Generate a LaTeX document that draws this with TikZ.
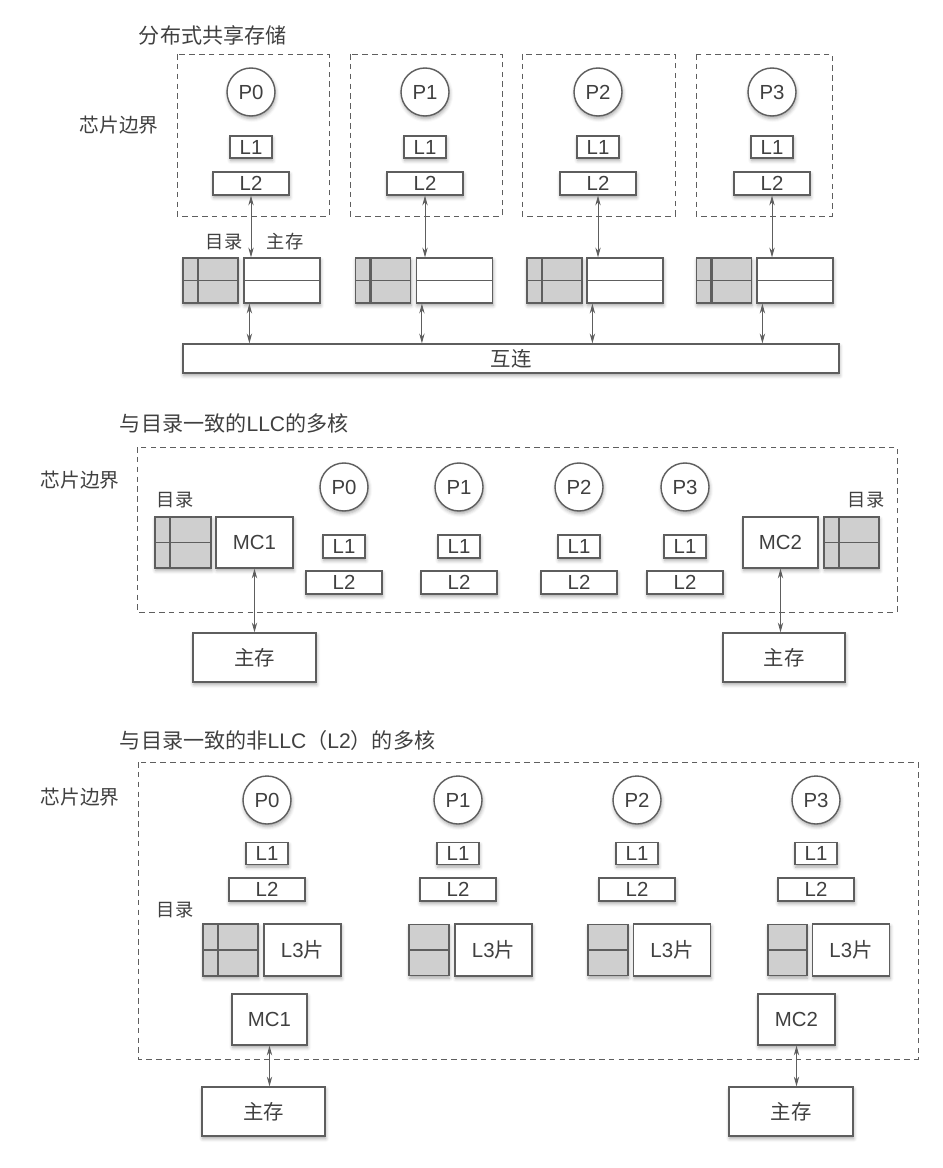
\documentclass[tikz,border=0pt]{standalone}
\usepackage{fontspec}
\setmainfont{Liberation Sans}
\newfontfamily\cjk{Noto Sans CJK SC}
\usetikzlibrary{arrows.meta,shadows.blur}

\newcommand{\pxl}{0.025cm}
\definecolor{edge}{HTML}{5E5E5E}
\definecolor{txt}{HTML}{404040}
\definecolor{dirgray}{HTML}{CFCFCF}

\tikzset{
  every node/.style={text=txt, font=\fontsize{14.5}{17}\selectfont},
  soft/.style={blur shadow={shadow xshift=0.5pt, shadow yshift=-1.8pt, shadow blur radius=2.5pt, shadow opacity=35}},
  proc/.style={circle, draw=edge, line width=1pt, fill=white, minimum size=48*\pxl, inner sep=0pt, soft},
  cbox/.style args={#1/#2}{draw=edge, line width=0.85pt, fill=white, minimum width=#1*\pxl, minimum height=#2*\pxl, inner sep=0pt, soft},
  memrows/.style={path picture={\draw[edge, line width=0.85pt] (path picture bounding box.west) -- (path picture bounding box.east);}},
  dirfull/.style args={#1/#2}{cbox=#1/#2, fill=dirgray, path picture={
      \draw[edge, line width=0.85pt] (path picture bounding box.west) -- (path picture bounding box.east);
      \draw[edge, line width=1.9pt] ([xshift=15*\pxl]path picture bounding box.north west) -- ([xshift=15*\pxl]path picture bounding box.south west);}},
  dirhalf/.style args={#1/#2}{cbox=#1/#2, fill=dirgray, memrows},
  chip/.style={draw=edge, dash pattern=on 4pt off 3pt, line width=0.7pt},
  link/.style={draw=edge, line width=0.65pt, {Stealth[length=7pt,width=3.8pt]}-{Stealth[length=7pt,width=3.8pt]}},
  title/.style={anchor=west, font=\fontsize{15}{18}\selectfont},
  lbl/.style={font=\cjk\fontsize{14}{17}\selectfont},
}

\begin{document}
\begin{tikzpicture}[x=0.025cm, y=-0.025cm]
  \useasboundingbox (0,0) rectangle (942,1168);

  \node[title] (t1) at (134,35) {\cjk 分布式共享存储};
  \node[lbl] (b1) at (119,125) {芯片边界};
  \draw[chip] (177,54) rectangle (329,216);
  \draw[chip] (350,54) rectangle (502,216);
  \draw[chip] (522,54) rectangle (675,216);
  \draw[chip] (696,54) rectangle (832,216);
  \node[lbl, font=\cjk\fontsize{13}{16}\selectfont] (d1) at (224,242) {目录};
  \node[lbl, font=\cjk\fontsize{13}{16}\selectfont] (s1) at (285,242) {主存};
  \node[cbox=656/29] (net) at (511,358.5) {\cjk 互连};
  \foreach \i/\x/\d/\m in {0/251/210.5/282,1/425/383/454.5,2/598/554.5/625,3/772/724/795}{
    \node[proc] (a-p\i) at (\x,92) {P\i};
    \node[cbox=42/22] (a-l1\i) at (\x,147) {L1};
    \node[cbox=76/23] (a-l2\i) at (\x,183.5) {L2};
    \node[dirfull=55/45] (a-d\i) at (\d,280.5) {};
    \node[cbox=76/45, memrows] (a-m\i) at (\m,280.5) {};
    \draw[link] (a-l2\i.south) -- (a-l2\i.south |- a-m\i.north);
    \draw[link] ([xshift=6*\pxl]a-m\i.south west) -- ([xshift=6*\pxl]a-m\i.south west |- net.north);
  }

  \node[title] (t2) at (115,423) {{\cjk 与目录一致的}LLC{\cjk 的多核}};
  \node[lbl] (b2) at (80,480) {芯片边界};
  \draw[chip] (137,447) rectangle (897,612);
  \node[lbl, font=\cjk\fontsize{13}{16}\selectfont] (d2l) at (175,500) {目录};
  \node[lbl, font=\cjk\fontsize{13}{16}\selectfont] (d2r) at (866,500) {目录};
  \node[dirfull=56/51] (b-dl) at (183,542.5) {};
  \node[cbox=77/51] (b-mc1) at (254.5,542.5) {MC1};
  \node[cbox=75/51] (b-mc2) at (780.5,542.5) {MC2};
  \node[dirfull=55/51] (b-dr) at (851.5,542.5) {};
  \foreach \i/\x in {0/344,1/459,2/579,3/685}{
    \node[proc] (b-p\i) at (\x,487) {P\i};
    \node[cbox=42/23] (b-l1\i) at (\x,546.5) {L1};
    \node[cbox=76/23] (b-l2\i) at (\x,582.5) {L2};
  }
  \node[cbox=123/49] (b-s1) at (254.5,657.5) {\cjk 主存};
  \node[cbox=122/49] (b-s2) at (784,657.5) {\cjk 主存};
  \draw[link] (b-mc1.south) -- (b-mc1.south |- b-s1.north);
  \draw[link] (b-mc2.south) -- (b-mc2.south |- b-s2.north);

  \node[title] (t3) at (115,740) {{\cjk 与目录一致的非}LLC{\cjk （}L2{\cjk ）的多核}};
  \node[lbl] (b3) at (80,797) {芯片边界};
  \draw[chip] (138,762) rectangle (918,1059);
  \node[lbl, font=\cjk\fontsize{13}{16}\selectfont] (d3) at (175,910) {目录};
  \foreach \i/\x/\l in {0/267/302.5,1/458/493.5,2/637/672,3/816/851}{
    \node[proc] (c-p\i) at (\x,800) {P\i};
    \node[cbox=42/22] (c-l1\i) at (\x,853.5) {L1};
    \node[cbox=76/23] (c-l2\i) at (\x,889.5) {L2};
    \node[cbox=77/52] (c-l3\i) at (\l,950) {L3{\cjk 片}};
  }
  \node[dirfull=55/52] (c-d0) at (230.5,950) {};
  \node[dirhalf=40/51] (c-d1) at (429,950) {};
  \node[dirhalf=40/51] (c-d2) at (608,950) {};
  \node[dirhalf=39/51] (c-d3) at (787.5,950) {};
  \node[cbox=75/51] (c-mc1) at (269.5,1019.5) {MC1};
  \node[cbox=77/51] (c-mc2) at (796.5,1019.5) {MC2};
  \node[cbox=123/49] (c-s1) at (263.5,1111.5) {\cjk 主存};
  \node[cbox=124/49] (c-s2) at (791,1111.5) {\cjk 主存};
  \draw[link] (c-mc1.south) -- (c-mc1.south |- c-s1.north);
  \draw[link] (c-mc2.south) -- (c-mc2.south |- c-s2.north);
\end{tikzpicture}
\end{document}
